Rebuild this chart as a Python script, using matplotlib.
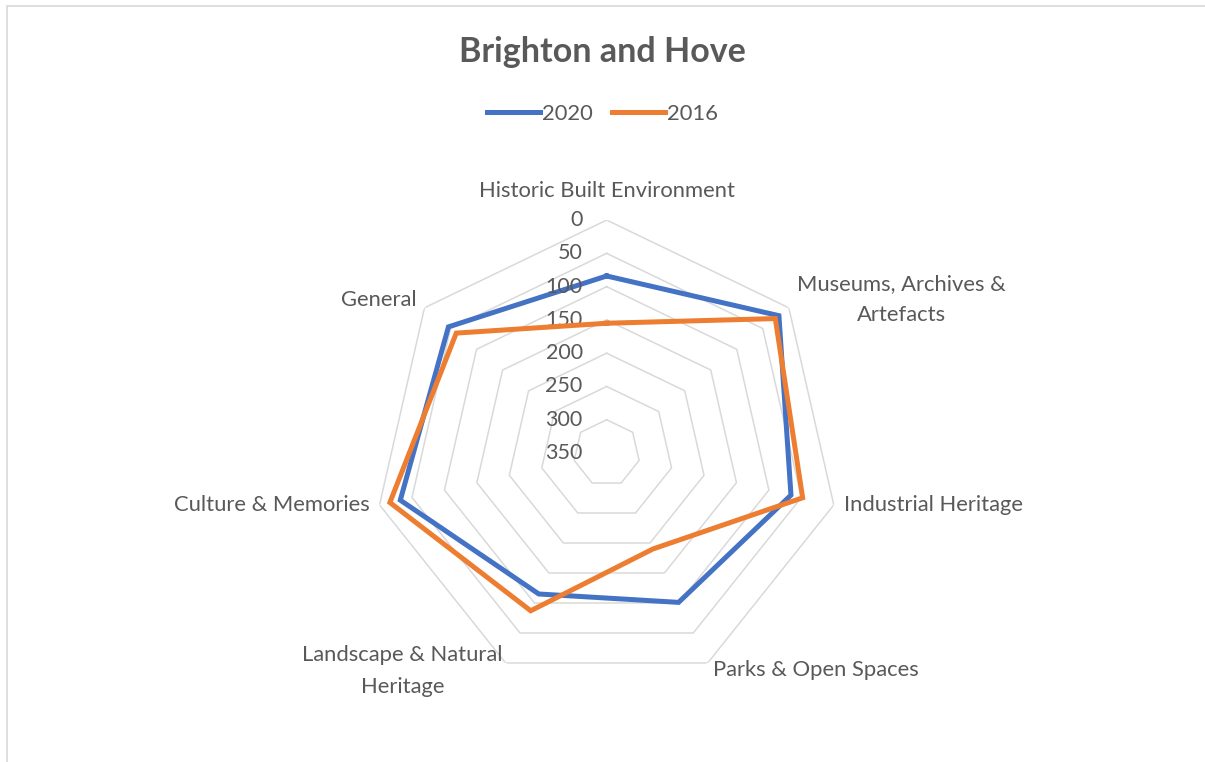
import numpy as np
import matplotlib.pyplot as plt
from matplotlib.patches import Rectangle

plt.rcParams['font.family'] = ['Lato', 'DejaVu Sans']

# datos (eje radial invertido: 0 fuera, 350 en el centro)
categorias = ['Historic Built Environment', 'Museums, Archives &\nArtefacts',
              'Industrial Heritage', 'Parks & Open Spaces',
              'Landscape & Natural\nHeritage', 'Culture & Memories', 'General']
valores_2020 = [84, 19, 66, 101, 115, 32, 46]
valores_2016 = [155, 26, 48, 190, 87, 16, 61]
ticks_radiales = [0, 50, 100, 150, 200, 250, 300, 350]

gris_texto = '#595959'
gris_rejilla = '#D9D9D9'
azul = '#4472C4'
naranja = '#ED7D31'

n = len(categorias)
ang = np.linspace(0, 2 * np.pi, n, endpoint=False)
ang_c = np.append(ang, ang[0])

fig = plt.figure(figsize=(12.05, 7.62), dpi=100)
ax = fig.add_axes([0.3101, 0.0997, 0.3867, 0.6115], projection='polar')
ax.set_theta_offset(np.pi / 2)
ax.set_theta_direction(-1)
ax.set_ylim(350, 0)
ax.grid(False)
ax.spines['polar'].set_visible(False)
ax.set_xticks([])
ax.set_yticks([])
ax.patch.set_alpha(0)

# rejilla heptagonal
for t in ticks_radiales[:-1]:
    ax.plot(ang_c, [t] * (n + 1), color=gris_rejilla, lw=1.1, zorder=1)

ax.plot(ang_c, valores_2020 + valores_2020[:1], color=azul, lw=3.6,
        label='2020', zorder=3, solid_joinstyle='miter')
ax.plot(ang_c, valores_2016 + valores_2016[:1], color=naranja, lw=3.6,
        label='2016', zorder=4, solid_joinstyle='miter')

# etiquetas del eje radial
for t in ticks_radiales:
    ax.annotate(str(t), xy=(0, t), xytext=(-24, 0), textcoords='offset pixels',
                ha='right', va='center', fontsize=15.5, color=gris_texto)

# etiquetas de categorías
desplaz = [(0, 29, 'center'), (8, 8, 'left'), (10, 0, 'left'),
           (5, -7, 'left'), (-3, -8, 'right'), (-10, 0, 'right'),
           (-8, 8, 'right')]
for a, cat, (dx, dy, ha) in zip(ang, categorias, desplaz):
    ax.annotate(cat, xy=(a, 0), xytext=(dx, dy), textcoords='offset pixels',
                ha=ha, va='center', multialignment='center',
                fontsize=15.8, color=gris_texto, linespacing=1.7)

fig.text(0.5, 1 - 52 / 762, 'Brighton and Hove', ha='center', va='center',
         fontsize=24.5, fontweight='bold', color=gris_texto)
fig.legend(loc='center', bbox_to_anchor=(0.5, 1 - 114 / 762), ncol=2,
           frameon=False, fontsize=15.8, labelcolor=gris_texto,
           handlelength=2.4, handletextpad=0.1, columnspacing=0.9)

fig.patches.append(Rectangle((7 / 1205, -0.01), 1.0, 1 - 6 / 762 + 0.01,
                             transform=fig.transFigure, fill=False,
                             edgecolor=gris_rejilla, lw=1.2))

plt.savefig('out.png', dpi=100)
